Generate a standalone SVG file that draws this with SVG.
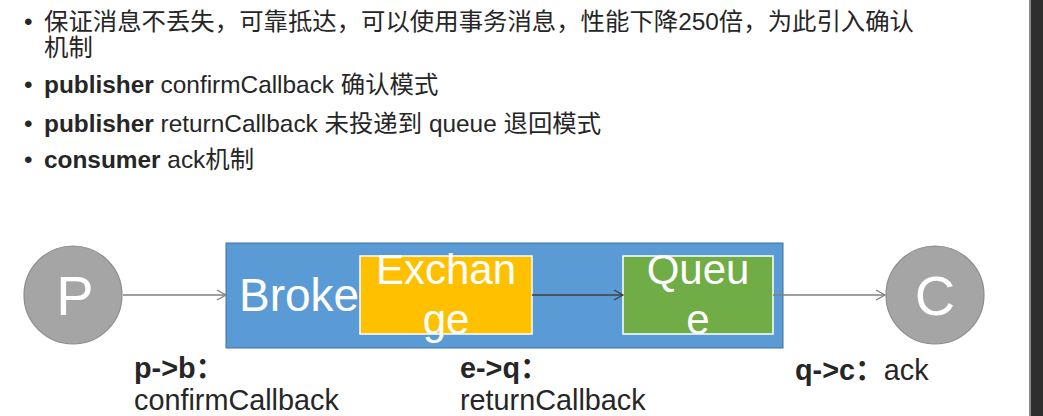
<svg xmlns="http://www.w3.org/2000/svg" width="1043" height="416" viewBox="0 0 1043 416">
<defs>
<style>
.t{font-family:"Liberation Sans","Noto Sans CJK SC",sans-serif;fill:#262626}
.b{font-weight:bold}
.w{font-family:"Liberation Sans",Arial,sans-serif;fill:#ffffff}
.conn{stroke-width:1.3;fill:none}
</style>
<marker id="ahg" markerWidth="12" markerHeight="12" refX="10" refY="6" orient="auto" markerUnits="userSpaceOnUse">
<path d="M1,1 L10,6 L1,11" fill="none" stroke="#7f7f7f" stroke-width="1.3"/>
</marker>
<marker id="ahd" markerWidth="12" markerHeight="12" refX="10" refY="6" orient="auto" markerUnits="userSpaceOnUse">
<path d="M1,1 L10,6 L1,11" fill="none" stroke="#404040" stroke-width="1.3"/>
</marker>
</defs>
<rect x="0" y="0" width="1043" height="416" fill="#ffffff"/>
<rect x="1030" y="0" width="13" height="416" fill="#2e2e2e"/>
<rect x="1029" y="0" width="2" height="416" fill="#8a8a8a"/>

<g id="bullets" font-size="24.4">
<text class="t" x="24" y="30">•</text>
<text class="t" x="44" y="30">保证消息不丢失，可靠抵达，可以使用事务消息，性能下降250倍，为此引入确认</text>
<text class="t" x="44" y="56">机制</text>
<text class="t" x="24" y="93">•</text>
<text class="t" x="44" y="93"><tspan class="b">publisher</tspan> confirmCallback 确认模式</text>
<text class="t" x="24" y="132">•</text>
<text class="t" x="44" y="132"><tspan class="b">publisher</tspan> returnCallback 未投递到 queue 退回模式</text>
<text class="t" x="24" y="168">•</text>
<text class="t" x="44" y="168"><tspan class="b">consumer</tspan> ack机制</text>
</g>

<g id="broker">
<rect x="226" y="243" width="557" height="105" fill="#5b9bd5" stroke="#41719c" stroke-width="1"/>
<text class="w" x="239" y="311" font-size="46">Broke</text>
</g>

<g id="exchange">
<rect x="360" y="256" width="172" height="78" fill="#ffc000" stroke="#ffffff" stroke-width="1.5"/>
<text class="w" x="446" y="284" font-size="42" text-anchor="middle">Exchan</text>
<text class="w" x="446" y="334" font-size="42" text-anchor="middle">ge</text>
</g>

<g id="queue">
<rect x="623" y="256" width="150" height="78" fill="#70ad47" stroke="#ffffff" stroke-width="1.5"/>
<text class="w" x="698" y="284" font-size="42" text-anchor="middle">Queu</text>
<text class="w" x="698" y="334" font-size="42" text-anchor="middle">e</text>
</g>

<g id="producer">
<circle cx="73" cy="295" r="49" fill="#a5a5a5" stroke="#8c8c8c" stroke-width="1.2"/>
<text class="w" x="75" y="315" font-size="56" text-anchor="middle">P</text>
</g>

<g id="consumer">
<circle cx="935" cy="295" r="49" fill="#a5a5a5" stroke="#8c8c8c" stroke-width="1.2"/>
<text class="w" x="935" y="315" font-size="56" text-anchor="middle">C</text>
</g>

<g id="connectors">
<line class="conn" x1="123" y1="295" x2="226" y2="295" stroke="#7f7f7f" marker-end="url(#ahg)"/>
<line class="conn" x1="532" y1="295" x2="623" y2="295" stroke="#404040" marker-end="url(#ahd)"/>
<line class="conn" x1="773" y1="295" x2="885" y2="295" stroke="#7f7f7f" marker-end="url(#ahg)"/>
</g>

<g id="labels" font-size="28.8">
<text class="t" x="134" y="377.5"><tspan class="b">p-&gt;b：</tspan></text>
<text class="t" x="134" y="409.8">confirmCallback</text>
<text class="t" x="460" y="377.5"><tspan class="b">e-&gt;q：</tspan></text>
<text class="t" x="460" y="409.8">returnCallback</text>
<text class="t" x="795" y="380"><tspan class="b">q-&gt;c：</tspan>ack</text>
</g>
</svg>
